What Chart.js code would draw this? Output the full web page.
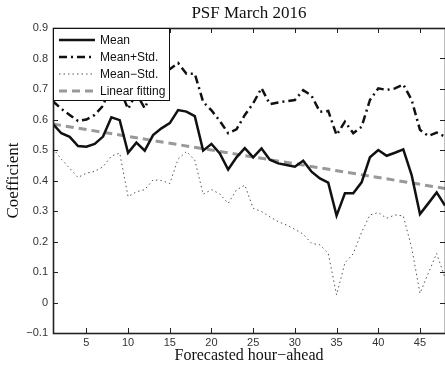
<!DOCTYPE html>
<html>
<head>
<meta charset="utf-8">
<script src="https://cdn.jsdelivr.net/npm/chart.js@4"></script>
<style>
html,body{margin:0;padding:0;background:#fff;}
#wrap{width:445px;height:371px;position:relative;}
</style>
</head>
<body>
<div id="wrap"><canvas id="c" width="445" height="371"></canvas></div>
<script>
const hours = Array.from({length: 48}, (_, i) => i + 1);
const meanValues = [0.585,0.555,0.543,0.513,0.511,0.52,0.544,0.607,0.598,0.491,0.524,0.498,0.549,0.571,0.588,0.631,0.626,0.611,0.498,0.52,0.489,0.436,0.476,0.506,0.476,0.505,0.468,0.456,0.451,0.445,0.465,0.429,0.407,0.393,0.285,0.358,0.358,0.394,0.476,0.50,0.481,0.491,0.502,0.418,0.29,0.325,0.361,0.318];
const meanPlusStd = [0.66,0.635,0.615,0.595,0.60,0.615,0.645,0.72,0.70,0.635,0.685,0.637,0.70,0.74,0.765,0.785,0.75,0.75,0.658,0.63,0.595,0.555,0.568,0.615,0.653,0.703,0.65,0.656,0.66,0.664,0.696,0.678,0.625,0.628,0.549,0.593,0.555,0.576,0.664,0.702,0.697,0.702,0.715,0.664,0.566,0.546,0.557,0.544];
const meanMinusStd = [0.505,0.47,0.44,0.41,0.424,0.43,0.445,0.48,0.49,0.347,0.363,0.37,0.402,0.40,0.39,0.47,0.495,0.467,0.355,0.37,0.356,0.325,0.369,0.385,0.309,0.298,0.281,0.265,0.254,0.24,0.224,0.194,0.189,0.161,0.025,0.13,0.16,0.23,0.287,0.295,0.276,0.287,0.284,0.18,0.03,0.096,0.161,0.08];
const fitHours = [1, 48];
const fitValues = [0.585, 0.374];
const xTicks = [5,10,15,20,25,30,35,40,45];
const yTicks = [-0.1,0,0.1,0.2,0.3,0.4,0.5,0.6,0.7,0.8,0.9];
const seriesNames = ['Mean','Mean+Std.','Mean\u2212Std.','Linear fitting'];

const pts = (xs, ys) => xs.map((x, i) => ({x: x, y: ys[i]}));

const frame = {
  id: 'frame',
  afterDatasetsDraw(chart) {
    const {ctx, chartArea: a, scales: {x, y}} = chart;
    ctx.save();
    ctx.strokeStyle = '#222';
    ctx.lineWidth = 1;
    const tl = 5;
    ctx.beginPath();
    xTicks.forEach(v => {
      const px = Math.round(x.getPixelForValue(v)) + 0.5;
      ctx.moveTo(px, a.bottom); ctx.lineTo(px, a.bottom - tl);
      ctx.moveTo(px, a.top); ctx.lineTo(px, a.top + tl);
    });
    yTicks.forEach(v => {
      const py = Math.round(y.getPixelForValue(v)) + 0.5;
      ctx.moveTo(a.left, py); ctx.lineTo(a.left + tl, py);
      ctx.moveTo(a.right, py); ctx.lineTo(a.right - tl, py);
    });
    ctx.stroke();
    ctx.lineWidth = 1.6;
    ctx.strokeRect(a.left + 0.5, a.top + 0.5, a.right - a.left, a.bottom - a.top);
    // legend
    const lx = a.left + 0.5, ly = a.top + 0.5, lw = 116, lh = 72;
    ctx.fillStyle = '#fff';
    ctx.fillRect(lx, ly, lw, lh);
    ctx.lineWidth = 1;
    ctx.strokeStyle = '#111';
    ctx.strokeRect(lx, ly, lw, lh);
    ctx.font = '12px "Liberation Sans", Arial, sans-serif';
    ctx.textBaseline = 'middle';
    ctx.textAlign = 'left';
    chart.data.datasets.forEach((ds, i) => {
      const cy = a.top + 12 + i * 17;
      ctx.save();
      ctx.strokeStyle = ds.borderColor;
      ctx.lineWidth = ds.borderWidth;
      ctx.setLineDash(ds.borderDash || []);
      ctx.beginPath();
      ctx.moveTo(a.left + 6, cy);
      ctx.lineTo(a.left + 42, cy);
      ctx.stroke();
      ctx.restore();
      ctx.fillStyle = '#111';
      ctx.fillText(ds.label, a.left + 47, cy + 0.5);
    });
    ctx.restore();
  }
};

new Chart(document.getElementById('c'), {
  type: 'line',
  data: {
    datasets: [
      {label: seriesNames[0], data: pts(hours, meanValues), borderColor: '#111', borderWidth: 2.5, pointRadius: 0, fill: false, tension: 0},
      {label: seriesNames[1], data: pts(hours, meanPlusStd), borderColor: '#111', borderWidth: 2.5, borderDash: [8,4,2,4], pointRadius: 0, fill: false, tension: 0},
      {label: seriesNames[2], data: pts(hours, meanMinusStd), borderColor: '#555', borderWidth: 1, borderDash: [1.5,3], pointRadius: 0, fill: false, tension: 0},
      {label: seriesNames[3], data: pts(fitHours, fitValues), borderColor: '#999', borderWidth: 3, borderDash: [8,5], pointRadius: 0, fill: false, tension: 0}
    ]
  },
  options: {
    responsive: false,
    animation: false,
    devicePixelRatio: 1,
    layout: {padding: {left: 0, right: 0, top: 0, bottom: 0}},
    plugins: {
      legend: {display: false},
      tooltip: {enabled: false},
      title: {
        display: true,
        fullSize: false,
        text: 'PSF March 2016',
        color: '#111',
        font: {family: '"Liberation Serif", "Times New Roman", serif', size: 17, weight: 'normal', lineHeight: 1.2},
        padding: {top: 3, bottom: 4.6}
      }
    },
    scales: {
      x: {
        type: 'linear',
        min: 1, max: 48,
        afterBuildTicks: s => { s.ticks = xTicks.map(v => ({value: v})); },
        afterFit: s => { s.height = 38; },
        grid: {display: false, drawTicks: false},
        border: {display: false},
        ticks: {color: '#333', padding: 3, maxRotation: 0, autoSkip: false, font: {family: '"Liberation Sans", Arial, sans-serif', size: 11}},
        title: {display: true, text: 'Forecasted hour\u2212ahead', color: '#111', padding: {top: 0, bottom: 6}, font: {family: '"Liberation Serif", "Times New Roman", serif', size: 16, lineHeight: 1.2}}
      },
      y: {
        type: 'linear',
        min: -0.1, max: 0.9,
        afterBuildTicks: s => { s.ticks = yTicks.map(v => ({value: v})); },
        afterFit: s => { s.width = 53; },
        grid: {display: false, drawTicks: false},
        border: {display: false},
        ticks: {
          color: '#333', padding: 5, autoSkip: false,
          font: {family: '"Liberation Sans", Arial, sans-serif', size: 11},
          callback: v => {
            const r = Math.round(v * 10) / 10;
            if (r === 0) return '0';
            return r < 0 ? '\u2212' + Math.abs(r).toFixed(1) : r.toFixed(1);
          }
        },
        title: {display: true, text: 'Coefficient', color: '#111', padding: {top: 3.3, bottom: 0}, font: {family: '"Liberation Serif", "Times New Roman", serif', size: 17, lineHeight: 1.2}}
      }
    }
  },
  plugins: [frame]
});
</script>
</body>
</html>
